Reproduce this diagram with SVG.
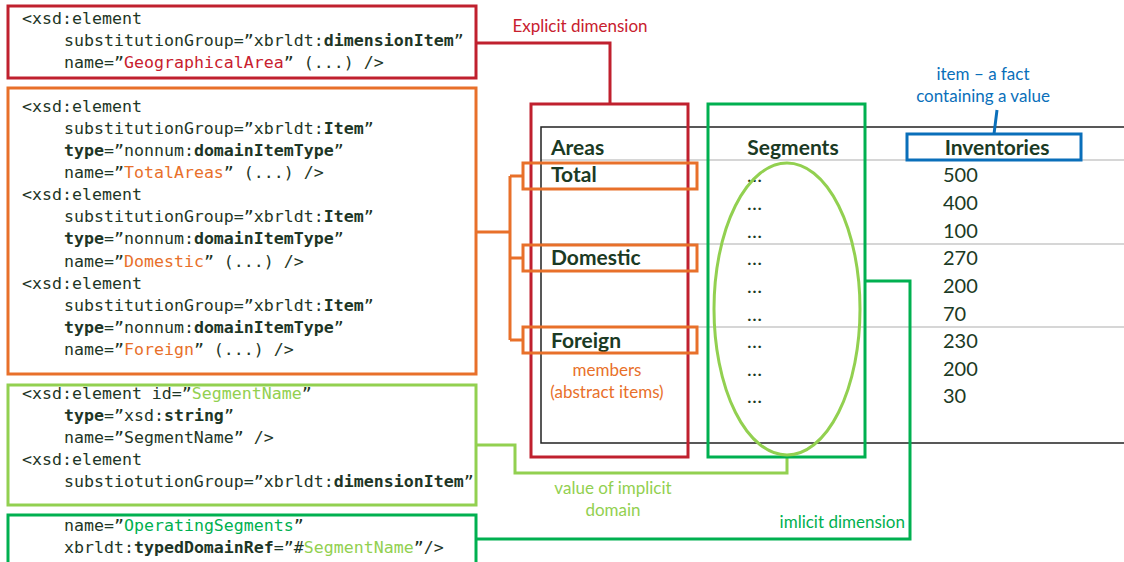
<svg xmlns="http://www.w3.org/2000/svg" width="1124" height="562" viewBox="0 0 1124 562">
<style>
.code{font-family:"DejaVu Sans Mono","Liberation Mono",monospace;font-size:16.6px;fill:#1e3626}
.b{font-weight:bold}
.tbl{font-family:Lato,"Open Sans",sans-serif;font-size:20px;fill:#1b3a24}
.hd{font-weight:bold;font-size:21px}
.lbl{font-family:Lato,"Open Sans",sans-serif;font-size:17px}
.box{fill:none;stroke-width:3}
.red{stroke:#c0202e}.org{stroke:#e8702a}.lg{stroke:#92d050}.dg{stroke:#00b050}.bl{stroke:#0a6fba}
.cred{fill:#c8202e}.corg{fill:#e8702a}.clg{fill:#92d050}.cdg{fill:#00b050}.cbl{fill:#0a6fba}
.grid{stroke:#c8c8c8;stroke-width:1.5}
</style>
<rect width="1124" height="562" fill="#fff"/>
<g id="table">
<line class="grid" x1="541" y1="160" x2="1124" y2="160"/>
<line class="grid" x1="541" y1="244" x2="1124" y2="244"/>
<line class="grid" x1="541" y1="327" x2="1124" y2="327"/>
<path d="M1126 127 H541 V443 H1126" fill="none" stroke="#222" stroke-width="1.5"/>
<text class="tbl hd" x="551" y="155">Areas</text>
<text class="tbl hd" x="793" y="155" text-anchor="middle">Segments</text>
<text class="tbl hd" x="997" y="155" text-anchor="middle">Inventories</text>
<text class="tbl hd" x="551" y="182">Total</text>
<text class="tbl hd" x="551" y="265">Domestic</text>
<text class="tbl hd" x="551" y="348">Foreign</text>
<g class="tbl" font-size="16">
<text x="747" y="182">…</text><text x="747" y="210">…</text><text x="747" y="238">…</text>
<text x="747" y="265">…</text><text x="747" y="293">…</text><text x="747" y="321">…</text>
<text x="747" y="348">…</text><text x="747" y="376">…</text><text x="747" y="403">…</text>
</g>
<text class="tbl" x="943" y="182">500</text>
<text class="tbl" x="943" y="210">400</text>
<text class="tbl" x="943" y="238">100</text>
<text class="tbl" x="943" y="265">270</text>
<text class="tbl" x="943" y="293">200</text>
<text class="tbl" x="943" y="321">70</text>
<text class="tbl" x="943" y="348">230</text>
<text class="tbl" x="943" y="376">200</text>
<text class="tbl" x="943" y="403">30</text>
</g>
<g id="connectors" fill="none" stroke-width="3">
<path class="red" d="M476 43 H610 V104"/>
<path class="org" d="M476 232 H510 M510 176 V340 M510 176 H523 M510 258 H523 M510 340 H523"/>
<path class="lg" d="M476 445 H515 V473 H787 V456"/>
<path class="dg" d="M476 539 H910 V281 H865"/>
<path class="bl" d="M994 134 L997 110"/>
</g>
<g id="geo-area-code">
<rect class="box red" x="8" y="6" width="468" height="72"/>
<text class="code" x="22" y="24">&lt;xsd:element</text>
<text class="code" x="64" y="46">substitutionGroup=”xbrldt:<tspan class="b">dimensionItem</tspan>”</text>
<text class="code" x="64" y="68">name=”<tspan class="cred">GeographicalArea</tspan>” (...) /&gt;</text>
</g>
<g id="members-code">
<rect class="box org" x="8" y="88" width="468" height="286"/>
<text class="code" x="22" y="112">&lt;xsd:element</text>
<text class="code" x="64" y="134">substitutionGroup=”xbrldt:<tspan class="b">Item</tspan>”</text>
<text class="code" x="64" y="156"><tspan class="b">type</tspan>=”nonnum:<tspan class="b">domainItemType</tspan>”</text>
<text class="code" x="64" y="178">name=”<tspan class="corg">TotalAreas</tspan>” (...) /&gt;</text>
<text class="code" x="22" y="200">&lt;xsd:element</text>
<text class="code" x="64" y="222">substitutionGroup=”xbrldt:<tspan class="b">Item</tspan>”</text>
<text class="code" x="64" y="244"><tspan class="b">type</tspan>=”nonnum:<tspan class="b">domainItemType</tspan>”</text>
<text class="code" x="64" y="267">name=”<tspan class="corg">Domestic</tspan>” (...) /&gt;</text>
<text class="code" x="22" y="289">&lt;xsd:element</text>
<text class="code" x="64" y="311">substitutionGroup=”xbrldt:<tspan class="b">Item</tspan>”</text>
<text class="code" x="64" y="333"><tspan class="b">type</tspan>=”nonnum:<tspan class="b">domainItemType</tspan>”</text>
<text class="code" x="64" y="355">name=”<tspan class="corg">Foreign</tspan>” (...) /&gt;</text>
</g>
<g id="segment-name-code">
<rect class="box lg" x="8" y="385" width="468" height="120"/>
<text class="code" x="22" y="399">&lt;xsd:element id=”<tspan class="clg">SegmentName</tspan>”</text>
<text class="code" x="64" y="421"><tspan class="b">type</tspan>=”xsd:<tspan class="b">string</tspan>”</text>
<text class="code" x="64" y="443">name=”SegmentName” /&gt;</text>
<text class="code" x="22" y="465">&lt;xsd:element</text>
<text class="code" x="64" y="487">substiotutionGroup=”xbrldt:<tspan class="b">dimensionItem</tspan>”</text>
</g>
<g id="operating-segments-code">
<rect class="box dg" x="8" y="515" width="468" height="60"/>
<text class="code" x="64" y="531">name=”<tspan class="cdg">OperatingSegments</tspan>”</text>
<text class="code" x="64" y="553">xbrldt:<tspan class="b">typedDomainRef</tspan>=”#<tspan class="clg">SegmentName</tspan>”/&gt;</text>
</g>
<g id="explicit-dimension">
<rect class="box red" x="531" y="104" width="157" height="353"/>
<text class="lbl cred" x="580" y="32" text-anchor="middle">Explicit dimension</text>
</g>
<g id="implicit-dimension">
<rect class="box dg" x="708" y="104" width="157" height="353"/>
<text class="lbl cdg" x="905" y="528" text-anchor="end">imlicit dimension</text>
</g>
<g id="implicit-domain-value">
<ellipse cx="787" cy="309" rx="73" ry="146" fill="none" stroke="#92d050" stroke-width="3"/>
<text class="lbl clg" x="613" y="494" text-anchor="middle">value of implicit</text>
<text class="lbl clg" x="613" y="516" text-anchor="middle">domain</text>
</g>
<g id="members">
<rect class="box org" x="523" y="163" width="174" height="26"/>
<rect class="box org" x="523" y="245" width="174" height="26"/>
<rect class="box org" x="523" y="327" width="174" height="26"/>
<text class="lbl corg" x="607" y="376" text-anchor="middle">members</text>
<text class="lbl corg" x="607" y="398" text-anchor="middle">(abstract items)</text>
</g>
<g id="item">
<rect class="box bl" x="907" y="134" width="174" height="26"/>
<text class="lbl cbl" x="983" y="80" text-anchor="middle">item – a fact</text>
<text class="lbl cbl" x="983" y="102" text-anchor="middle">containing a value</text>
</g>
</svg>
